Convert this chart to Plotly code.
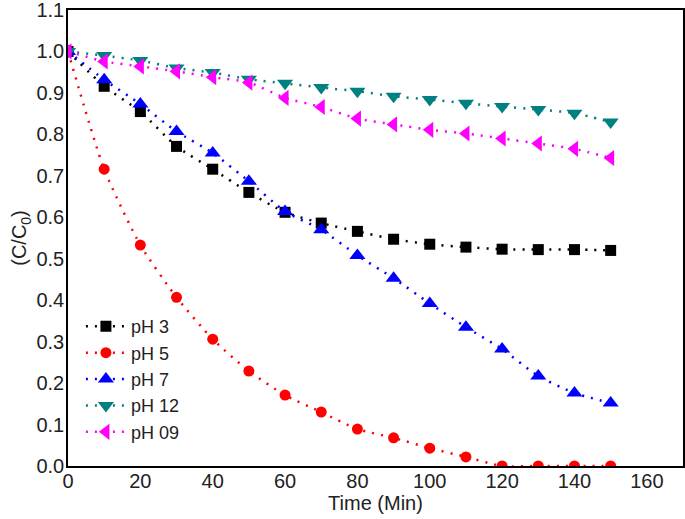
import plotly.graph_objects as go

time = [0, 10, 20, 30, 40, 50, 60, 70, 80, 90, 100, 110, 120, 130, 140, 150]
ph3 = [1.0, 0.916, 0.855, 0.771, 0.716, 0.660, 0.612, 0.586, 0.566, 0.547, 0.535, 0.528, 0.523, 0.522, 0.522, 0.520]
ph5 = [1.0, 0.716, 0.533, 0.407, 0.306, 0.229, 0.171, 0.130, 0.089, 0.068, 0.043, 0.022, 0.0, 0.0, 0.0, 0.0]
ph7 = [1.0, 0.932, 0.873, 0.807, 0.755, 0.687, 0.614, 0.570, 0.508, 0.453, 0.392, 0.335, 0.282, 0.217, 0.176, 0.152]
ph12 = [1.0, 0.990, 0.978, 0.960, 0.949, 0.933, 0.923, 0.913, 0.904, 0.892, 0.884, 0.875, 0.867, 0.860, 0.851, 0.830]
ph09 = [1.0, 0.976, 0.964, 0.952, 0.938, 0.925, 0.888, 0.866, 0.838, 0.824, 0.811, 0.802, 0.790, 0.778, 0.765, 0.743]

series = [
    ("pH 3", ph3, "black", "square", 11),
    ("pH 5", ph5, "red", "circle", 11),
    ("pH 7", ph7, "blue", "triangle-up", 14),
    ("pH 12", ph12, "#008080", "triangle-down", 14),
    ("pH 09", ph09, "magenta", "triangle-left", 14),
]

fig = go.Figure()
for name, ys, col, sym, sz in series:
    fig.add_trace(go.Scatter(
        x=time, y=ys, name=name, mode="lines+markers",
        line=dict(color=col, width=2.5, dash="2px,7px", shape="spline", smoothing=0.6),
        marker=dict(symbol=sym, size=sz, color=col),
    ))

fig.update_layout(
    width=685, height=519,
    margin=dict(l=68, r=2, t=10, b=53, autoexpand=False),
    paper_bgcolor="white", plot_bgcolor="white",
    font=dict(family="Liberation Sans, Arial", size=20, color="#222"),
    showlegend=True,
    legend=dict(x=0.021, y=0.035, xanchor="left", yanchor="bottom",
                bgcolor="rgba(0,0,0,0)", font=dict(size=18), tracegroupgap=0, itemwidth=40),
    xaxis=dict(range=[0, 170], tickvals=[0, 20, 40, 60, 80, 100, 120, 140, 160],
               showgrid=False, zeroline=False, showline=True, linecolor="black",
               linewidth=1.5, mirror=True, ticks="", automargin=False,
               tickfont=dict(size=20), ticklabelstandoff=-4, ticklabeloverflow="allow",
               title=dict(text="Time (Min)", standoff=4, font=dict(size=20))),
    yaxis=dict(range=[0, 1.1], tickvals=[i / 10 for i in range(12)], tickformat=".1f",
               showgrid=False, zeroline=False, showline=True, linecolor="black",
               linewidth=1.5, mirror=True, ticks="", automargin=False,
               tickfont=dict(size=20), ticklabelstandoff=-2, ticklabeloverflow="allow",
               title=dict(text="(C/C<sub>0</sub>)", standoff=4, font=dict(size=20))),
)

fig.write_html("out.html", config={"displayModeBar": False},
               post_script="document.body.style.margin='0';")
